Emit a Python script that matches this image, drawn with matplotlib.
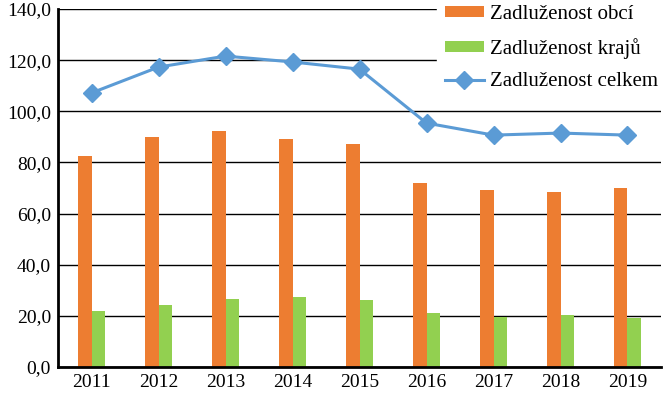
import numpy as np
import matplotlib.pyplot as plt

# data
years = ["2011", "2012", "2013", "2014", "2015", "2016", "2017", "2018", "2019"]
obce = [82.5, 90.0, 92.3, 89.2, 87.2, 72.0, 69.2, 68.4, 70.0]
kraje = [21.9, 24.2, 26.6, 27.4, 26.2, 21.1, 19.6, 20.3, 19.2]
celkem = [107.2, 117.3, 121.6, 119.3, 116.5, 95.4, 90.7, 91.5, 90.7]

plt.rcParams['font.family'] = ['Liberation Serif', 'DejaVu Serif']

fig = plt.figure(figsize=(6.67, 3.93), dpi=100)
ax = fig.add_axes([0.087, 0.066, 0.904, 0.911])

x = np.arange(len(years))
w = 0.2
b1 = ax.bar(x - w / 2, obce, w, color="#ED7D31", label="Zadluženost obcí", zorder=2)
b2 = ax.bar(x + w / 2, kraje, w, color="#92D050", label="Zadluženost krajů", zorder=2)
l1, = ax.plot(x, celkem, color="#5B9BD5", lw=2.2, marker="D", markersize=9.5,
              label="Zadluženost celkem", zorder=3)

ax.set_xlim(-0.5, len(years) - 0.5)
ax.set_ylim(0, 140)
ax.set_yticks(np.arange(0, 141, 20))
ax.set_yticklabels([f"{v:.1f}".replace(".", ",") for v in np.arange(0, 141, 20)])
ax.set_xticks(x)
ax.set_xticklabels(years)
ax.tick_params(labelsize=14, length=0, pad=5)
ax.yaxis.grid(True, color="black", lw=1, zorder=0)

for s in ["top", "right"]:
    ax.spines[s].set_visible(False)
ax.spines["left"].set_linewidth(2)
ax.spines["bottom"].set_linewidth(2)

leg = ax.legend([b1, b2, l1], [b1.get_label(), b2.get_label(), l1.get_label()],
                loc="upper right", bbox_to_anchor=(1.025, 1.06), fontsize=15,
                frameon=True, fancybox=False, framealpha=1, edgecolor="white",
                handlelength=1.9, handleheight=0.45, labelspacing=0.65,
                handletextpad=0.3, borderpad=0.35)
leg.set_zorder(5)

fig.savefig("out.png")
